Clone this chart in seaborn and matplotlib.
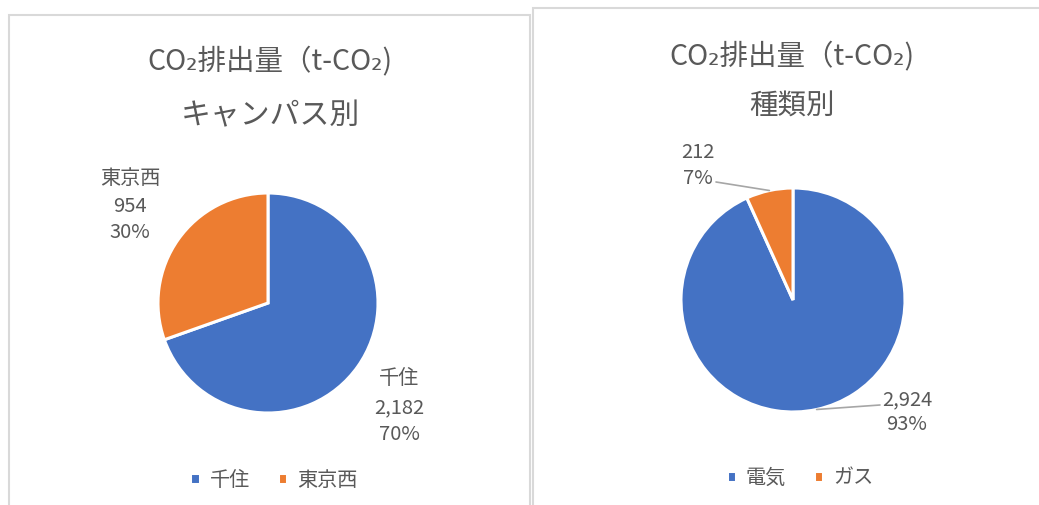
import numpy as np
import matplotlib
matplotlib.use("Agg")
import matplotlib.pyplot as plt
from matplotlib.patches import Rectangle
import seaborn as sns

# ---- data ----
title_main = "CO₂排出量（t-CO₂)"
left_subtitle = "キャンパス別"
left_labels = ["千住", "東京西"]
left_values = [2182, 954]
left_pct = ["70%", "30%"]

right_subtitle = "種類別"
right_labels = ["電気", "ガス"]
right_values = [2924, 212]
right_pct = ["93%", "7%"]

colors = ["#4472C4", "#ED7D31"]

sns.set_theme(style="white")
plt.rcParams['font.family'] = ['Noto Sans CJK JP', 'DejaVu Sans']
palette = sns.color_palette(colors)
TXT = "#595959"
TS = 20.5   # title size
LS = 14.5   # label size

W, H = 1039, 505
fig = plt.figure(figsize=(W / 100, H / 100), dpi=100)
fig.patch.set_facecolor("white")


def fx(x):
    return x / W


def fy(y):
    return 1 - y / H


# panel borders
fig.patches.append(Rectangle((fx(9), fy(520)), fx(530) - fx(9), fy(15) - fy(520),
                             transform=fig.transFigure, fill=False,
                             edgecolor="#D9D9D9", lw=1.5))
fig.patches.append(Rectangle((fx(533), fy(520)), fx(1045) - fx(533), fy(8) - fy(520),
                             transform=fig.transFigure, fill=False,
                             edgecolor="#D9D9D9", lw=1.5))


def make_pie(cx, cy, r, values):
    ax = fig.add_axes([fx(cx - r), fy(cy + r), 2 * r / W, 2 * r / H])
    wedges, _ = ax.pie(values, colors=palette, startangle=90, counterclock=False,
                       radius=1.0, wedgeprops=dict(edgecolor="white", linewidth=2.2))
    ax.set_xlim(-1, 1)
    ax.set_ylim(-1, 1)
    ax.set_aspect("equal")
    ax.axis("off")
    return ax, wedges


def ptext(x, y, s, size, **kw):
    fig.text(fx(x), fy(y), s, fontsize=size, color=TXT, ha="center", va="center", **kw)


# ---- left chart ----
ptext(270, 62, title_main, TS)
ptext(270, 116, left_subtitle, TS + 1)
axL, wL = make_pie(268, 303, 110, left_values)
ptext(130, 179, left_labels[1], LS)
ptext(130, 207, f"{left_values[1]:,}", LS)
ptext(130, 233, left_pct[1], LS)
ptext(399, 379, left_labels[0], LS)
ptext(399, 408, f"{left_values[0]:,}", LS)
ptext(399, 434, left_pct[0], LS)
fig.legend(wL, left_labels, loc="center", bbox_to_anchor=(fx(274), fy(480)),
           ncol=2, frameon=False, fontsize=LS, labelcolor=TXT,
           handlelength=0.45, handleheight=0.45, handletextpad=0.5, columnspacing=1.4)

# ---- right chart ----
ptext(792, 57, title_main, TS)
ptext(792, 107, right_subtitle, TS)
axR, wR = make_pie(793, 300, 112, right_values)
ptext(698, 153, f"{right_values[1]:,}", LS)
ptext(698, 179, right_pct[1], LS)
ptext(907, 400, f"{right_values[0]:,}", LS)
ptext(907, 425, right_pct[0], LS)

# leader lines from wedge mid-angle edge to label
for w, (ex, ey) in zip(wR, [(880, 405), (716, 182)]):
    mid = np.deg2rad((w.theta1 + w.theta2) / 2)
    x0, y0 = np.cos(mid), np.sin(mid)
    p0 = axR.transData.transform((x0, y0))
    p1 = (ex, H - ey)
    line = plt.Line2D([p0[0] / W, p1[0] / W], [p0[1] / H, p1[1] / H],
                      transform=fig.transFigure, color="#A6A6A6", lw=1.2)
    fig.add_artist(line)

fig.legend(wR, right_labels, loc="center", bbox_to_anchor=(fx(800), fy(478)),
           ncol=2, frameon=False, fontsize=LS, labelcolor=TXT,
           handlelength=0.45, handleheight=0.45, handletextpad=0.5, columnspacing=1.4)

fig.savefig("out.png", dpi=100, facecolor="white")
